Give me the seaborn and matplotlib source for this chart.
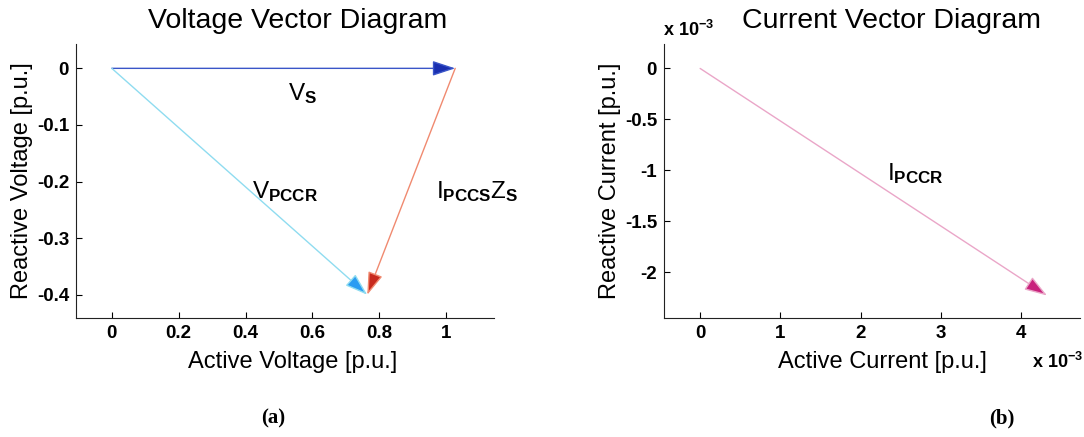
import matplotlib
matplotlib.use('Agg')
import matplotlib.pyplot as plt
import seaborn as sns

# 数据
volt_x0 = [0.0, 0.0, 1.027]
volt_y0 = [0.0, 0.0, 0.0]
volt_x1 = [1.027, 0.764, 0.764]
volt_y1 = [0.0, -0.40, -0.40]
volt_labels = [r'$\mathrm{V}_{\mathbf{S}}$', r'$\mathrm{V}_{\mathbf{PCCR}}$',
               r'$\mathrm{I}_{\mathbf{PCCS}}\mathrm{Z}_{\mathbf{S}}$']
volt_label_x = [0.527, 0.418, 0.969]
volt_label_y = [-0.056, -0.229, -0.229]

curr_x0 = [0.0]
curr_y0 = [0.0]
curr_x1 = [4.32e-3]
curr_y1 = [-2.23e-3]
curr_labels = [r'$\mathrm{I}_{\mathbf{PCCR}}$']
curr_label_x = [2.33e-3]
curr_label_y = [-1.10e-3]

volt_xticks = [0, 0.2, 0.4, 0.6, 0.8, 1]
volt_yticks = [0, -0.1, -0.2, -0.3, -0.4]
curr_xticks = [0, 1, 2, 3, 4]
curr_yticks = [0, -0.5, -1, -1.5, -2]

sns.set_style('ticks')
plt.rcParams['font.family'] = ['Liberation Sans', 'DejaVu Sans']
plt.rcParams['mathtext.fontset'] = 'custom'
plt.rcParams['mathtext.rm'] = 'Liberation Sans'
plt.rcParams['mathtext.it'] = 'Liberation Sans:italic'
plt.rcParams['mathtext.bf'] = 'Liberation Sans:bold'
plt.rcParams['text.color'] = 'black'
plt.rcParams['axes.labelcolor'] = 'black'
plt.rcParams['xtick.color'] = 'black'
plt.rcParams['ytick.color'] = 'black'

line_cols = ['#3a55c8', '#8fdcf0', '#f08a70']
head_cols = ['#1a2fb0', '#2a9cf2', '#c82a1e']
curr_line = '#eaa6c8'
curr_head = '#c8227c'


def draw_arrow(ax, x0, y0, x1, y1, lc, hc):
    ax.annotate('', xy=(x1, y1), xytext=(x0, y0), xycoords='data',
                arrowprops=dict(arrowstyle='-|>,head_length=1.0,head_width=0.33',
                                mutation_scale=14, fc=hc, ec=lc, lw=1.0,
                                shrinkA=0, shrinkB=0))


def style_axes(ax):
    sns.despine(ax=ax)
    ax.spines['left'].set_color('#222222')
    ax.spines['bottom'].set_color('#222222')
    ax.tick_params(direction='in', length=4, width=0.8, labelsize=13.5, pad=5)
    for t in ax.get_xticklabels() + ax.get_yticklabels():
        t.set_fontweight('bold')


fig = plt.figure(figsize=(10.84, 4.37), dpi=100)

# (a) 电压向量图
ax1 = fig.add_axes([76 / 1084, 1 - 318 / 437, 418 / 1084, 274 / 437])
for i in range(len(volt_x0)):
    draw_arrow(ax1, volt_x0[i], volt_y0[i], volt_x1[i], volt_y1[i], line_cols[i], head_cols[i])
    ax1.text(volt_label_x[i], volt_label_y[i], volt_labels[i], fontsize=17.5,
             ha='left', va='baseline', clip_on=False)
ax1.set_xlim(-0.107, 1.143)
ax1.set_ylim(-0.441, 0.043)
ax1.set_xticks(volt_xticks)
ax1.set_xticklabels(['0', '0.2', '0.4', '0.6', '0.8', '1'])
ax1.set_yticks(volt_yticks)
ax1.set_yticklabels(['0', '-0.1', '-0.2', '-0.3', '-0.4'])
style_axes(ax1)
ax1.set_xlabel('Active Voltage [p.u.]', fontsize=17, va='center')
ax1.set_ylabel('Reactive Voltage [p.u.]', fontsize=17, va='center')
ax1.xaxis.set_label_coords(0.518, -0.161)
ax1.yaxis.set_label_coords(-0.128, 0.5)
ax1.text(0.53, 1.085, 'Voltage Vector Diagram', transform=ax1.transAxes,
         fontsize=20.5, ha='center', va='center')
ax1.text(0.471, -0.365, '(a)', transform=ax1.transAxes, fontsize=15,
         fontweight='bold', family='Liberation Serif', ha='center', va='center')

# (b) 电流向量图
ax2 = fig.add_axes([664 / 1084, 1 - 318 / 437, 416 / 1084, 274 / 437])
for i in range(len(curr_x0)):
    draw_arrow(ax2, curr_x0[i], curr_y0[i], curr_x1[i], curr_y1[i], curr_line, curr_head)
    ax2.text(curr_label_x[i], curr_label_y[i], curr_labels[i], fontsize=17.5,
             ha='left', va='baseline')
ax2.set_xlim(-0.45e-3, 4.73e-3)
ax2.set_ylim(-2.45e-3, 0.24e-3)
ax2.set_xticks([v * 1e-3 for v in curr_xticks])
ax2.set_xticklabels([str(v) for v in curr_xticks])
ax2.set_yticks([v * 1e-3 for v in curr_yticks])
ax2.set_yticklabels(['0', '-0.5', '-1', '-1.5', '-2'])
style_axes(ax2)
ax2.set_xlabel('Active Current [p.u.]', fontsize=17, va='center')
ax2.set_ylabel('Reactive Current [p.u.]', fontsize=17, va='center')
ax2.xaxis.set_label_coords(0.524, -0.161)
ax2.yaxis.set_label_coords(-0.13, 0.5)
ax2.text(0.548, 1.085, 'Current Vector Diagram', transform=ax2.transAxes,
         fontsize=20.5, ha='center', va='center')
ax2.text(0.058, 1.05, r'$\mathbf{x\ 10^{-3}}$', transform=ax2.transAxes,
         fontsize=13, ha='center', va='center')
ax2.text(0.945, -0.162, r'$\mathbf{x\ 10^{-3}}$', transform=ax2.transAxes,
         fontsize=13, ha='center', va='center')
ax2.text(0.812, -0.365, '(b)', transform=ax2.transAxes, fontsize=15,
         fontweight='bold', family='Liberation Serif', ha='center', va='center')

fig.savefig('out.png', dpi=100, facecolor='white')
plt.close(fig)
